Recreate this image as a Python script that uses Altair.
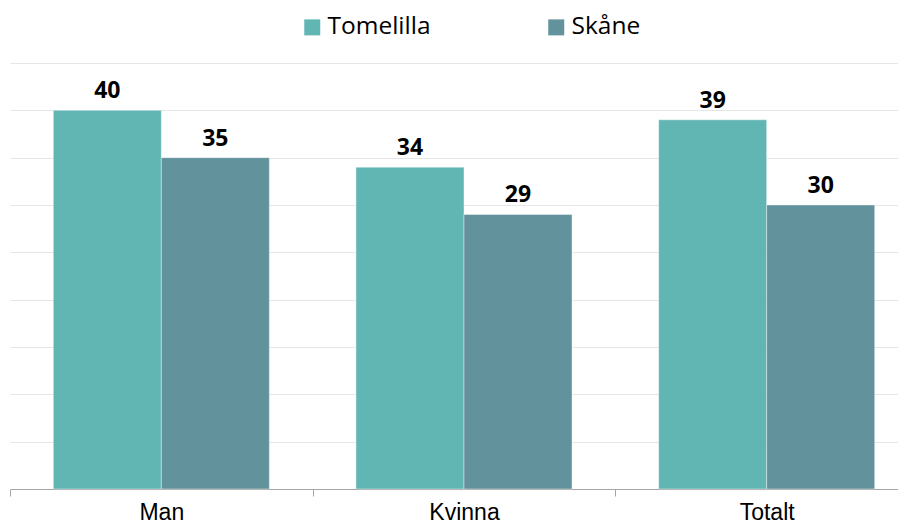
import altair as alt
import pandas as pd

categories = ["Man", "Kvinna", "Totalt"]
series = ["Tomelilla", "Skåne"]
tomelilla = [40, 34, 39]
skane = [35, 29, 30]
colors = ["#61B6B4", "#62929C"]
y_ticks = [0, 5, 10, 15, 20, 25, 30, 35, 40, 45]

rows = []
for name, vals in zip(series, [tomelilla, skane]):
    for c, v in zip(categories, vals):
        rows.append({"kategori": c, "serie": name, "värde": v})
df = pd.DataFrame(rows)

x = alt.X(
    "kategori:N", sort=categories, title=None,
    scale=alt.Scale(range=[0, 908], paddingInner=0, paddingOuter=0),
    axis=alt.Axis(labelAngle=0, tickBand="extent", tickSize=7, labelPadding=5,
                  labelFont="Liberation Sans", labelFontSize=23, labelColor="#000000",
                  domainColor="#a6a6a6", tickColor="#a6a6a6", grid=False),
)
y = alt.Y(
    "värde:Q", title=None,
    scale=alt.Scale(domain=[0, 45], nice=False),
    axis=alt.Axis(values=y_ticks, labels=False, ticks=False, domain=False,
                  grid=True, gridColor="#e6e6e6", gridWidth=1),
)
xoff = alt.XOffset("serie:N", sort=series, scale=alt.Scale(paddingInner=0, paddingOuter=0.401))

bars = alt.Chart(df).mark_bar(stroke="#ffffff", strokeWidth=0.8, strokeOpacity=0.5).encode(
    x=x, y=y, xOffset=xoff,
    color=alt.Color(
        "serie:N", sort=series,
        scale=alt.Scale(domain=series, range=colors),
        legend=alt.Legend(
            orient="none", legendX=290, legendY=-48, direction="horizontal", title=None,
            symbolType="square", symbolSize=256, symbolStrokeWidth=0,
            labelFont="Open Sans", labelFontSize=24.5, labelColor="#000000",
            labelOffset=3, columnPadding=113, padding=0, labelLimit=400,
        ),
    ),
)

labels = alt.Chart(df).mark_text(
    font="Open Sans", fontWeight="bold", fontSize=23, baseline="alphabetic",
    dy=-12, color="#000000",
).encode(x=x, y=y, xOffset=xoff, text=alt.Text("värde:Q"))

chart = alt.layer(bars, labels).properties(
    width=888, height=426,
    padding={"left": 2, "top": 55, "right": 0, "bottom": 35},
    autosize=alt.AutoSizeParams(type="none"),
    background="#ffffff",
).configure_view(stroke=None)

chart.save("out.html", embed_options={"renderer": "svg", "actions": False})
